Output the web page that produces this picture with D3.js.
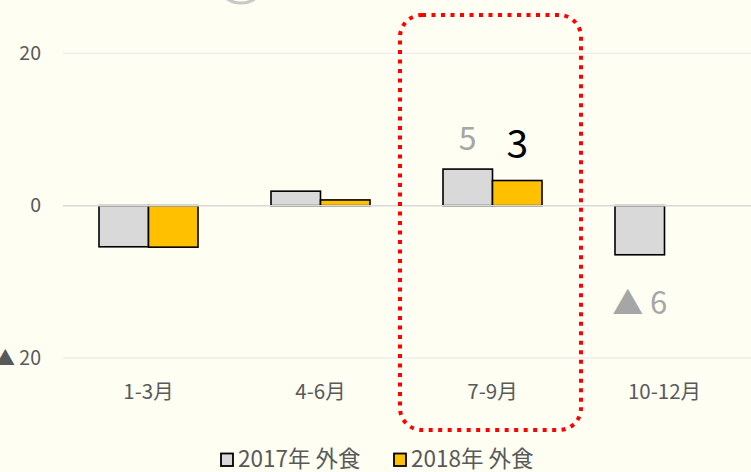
<!DOCTYPE html>
<html><head><meta charset="utf-8">
<script src="https://cdn.jsdelivr.net/npm/d3@7/dist/d3.min.js"></script>
<style>
html,body{margin:0;padding:0;background:#FEFEF2;}
svg{display:block;}
text{font-family:"Noto Sans CJK JP","Noto Sans",sans-serif;}
</style></head>
<body>
<script>
const categories = ["1-3月","4-6月","7-9月","10-12月"];
const seriesNames = ["2017年 外食","2018年 外食"];
const values2017 = [-5.4, 1.9, 4.8, -6.45];
const values2018 = [-5.45, 0.75, 3.3, null];
const yTicks = [-20, 0, 20];
const yTickLabels = ["▲ 20","0","20"];
const colors = ["#D9D9D9","#FFC000"];
const annotations = [
  {cat:"7-9月", series:0, text:"5", color:"#A6A6A6", size:32, dy:-33},
  {cat:"7-9月", series:1, text:"3", color:"#000000", size:39, dy:-40},
  {cat:"10-12月", series:0, text:"▲ 6", color:"#A6A6A6", size:31, dy:46}
];

const W=751,H=472;
const svg=d3.select("body").append("svg").attr("width",W).attr("height",H);
svg.append("rect").attr("width",W).attr("height",H).attr("fill","#FEFEF2");

const x=d3.scaleBand().domain(categories).range([62.5,750.5]).paddingInner(0.4244).paddingOuter(0.2122);
const xs=d3.scaleBand().domain([0,1]).range([0,x.bandwidth()]);
const y=d3.scaleLinear().domain([-20,20]).range([358,53.3]);

// top partial circle
svg.append("circle").attr("cx",241).attr("cy",-22).attr("r",25)
  .attr("fill","none").attr("stroke","#C8C8C8").attr("stroke-width",3);

// gridlines
svg.append("g").selectAll("line").data(yTicks.filter(d=>d!==0)).join("line")
  .attr("x1",63).attr("x2",W).attr("y1",d=>y(d)).attr("y2",d=>y(d))
  .attr("stroke","#EDEDED").attr("stroke-width",1.3);

// y labels
const yAxis=d3.axisLeft(y).tickValues(yTicks).tickSize(0).tickPadding(0)
  .tickFormat((d,i)=>yTickLabels[i]);
const ya=svg.append("g").attr("transform","translate(41,0)").call(yAxis);
ya.select(".domain").remove();
ya.selectAll("text").attr("font-size",19.5).attr("fill","#595959")
  .attr("font-family",'"Noto Sans CJK JP",sans-serif');

// bars
const data=[];
categories.forEach((c,i)=>{
  [values2017[i],values2018[i]].forEach((v,s)=>{ if(v!==null) data.push({c,s,v}); });
});
svg.append("g").selectAll("rect").data(data).join("rect")
  .attr("x",d=>x(d.c)+xs(d.s))
  .attr("width",xs.bandwidth())
  .attr("y",d=>y(Math.max(0,d.v)))
  .attr("height",d=>Math.abs(y(d.v)-y(0)))
  .attr("fill",d=>colors[d.s]).attr("stroke","#000").attr("stroke-width",1.6);

// zero line
svg.append("line").attr("x1",63).attr("x2",W).attr("y1",y(0)).attr("y2",y(0))
  .attr("stroke","#D9D9D9").attr("stroke-width",1.5);

// x labels
const xAxis=d3.axisBottom(x).tickSize(0).tickPadding(0);
const xa=svg.append("g").attr("transform","translate(0,384)").call(xAxis);
xa.select(".domain").remove();
xa.selectAll("text").attr("font-size",20.5).attr("fill","#595959")
  .attr("font-family",'"Noto Sans CJK JP",sans-serif');

// annotations
svg.append("g").selectAll("text").data(annotations).join("text")
  .attr("x",d=>x(d.cat)+xs(d.series)+xs.bandwidth()/2)
  .attr("y",d=>{const i=categories.indexOf(d.cat);const v=d.series===0?values2017[i]:values2018[i];return y(v)+d.dy;})
  .attr("text-anchor","middle").attr("dominant-baseline","central")
  .attr("font-size",d=>d.size).attr("fill",d=>d.color).text(d=>d.text);

// red dotted rounded rect
svg.append("rect").attr("x",400).attr("y",15).attr("width",181).attr("height",415)
  .attr("rx",22).attr("ry",22).attr("fill","none").attr("stroke","#FF0000")
  .attr("stroke-width",4).attr("stroke-dasharray","4 5.5");

// legend
const lg=svg.append("g");
const legX=[220,393];
seriesNames.forEach((n,i)=>{
  lg.append("rect").attr("x",legX[i]+1).attr("y",453.5).attr("width",12).attr("height",12.5)
    .attr("fill",colors[i]).attr("stroke","#000").attr("stroke-width",1.8);
  lg.append("text").attr("x",legX[i]+18).attr("y",457).attr("dominant-baseline","central")
    .attr("font-size",22.5).attr("fill","#595959").text(n);
});
</script>
</body></html>
